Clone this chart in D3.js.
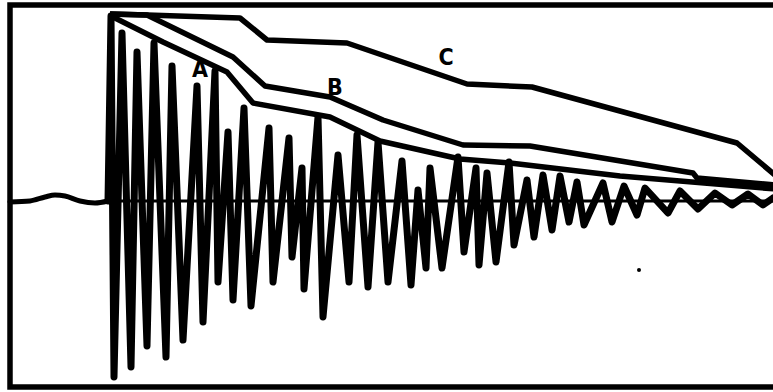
<!DOCTYPE html>
<html><head><meta charset="utf-8">
<script src="https://cdn.jsdelivr.net/npm/d3@7/dist/d3.min.js"></script>
<style>html,body{margin:0;padding:0;background:#fff;}svg{display:block;}</style>
</head><body>
<script>
// sample positions (time axis units) and amplitudes (baseline = 0)
const preT = [10, 30, 45, 55, 65, 80, 95, 108];
const preV = [-1, 0, 4, 6, 5, 0, -2, 0];
const sigT = [108,111,114,122,131,137,147,154,166,172,183,197,203,215,218,228,233,244,251,269,273,289,292,302,304,318,323,338,349,357,368,378,388,402,411,418,426,430,442,458,464,476,479,487,496,509,514,527,534,543,552,560,569,577,584,603,612,624,637,645,668,680,698,715,732,748,763,773];
const sigV = [0,185,-176,168,-166,149,-145,158,-156,135,-139,115,-121,130,-81,69,-99,93,-105,73,-81,63,-56,33,-88,84,-116,46,-81,66,-86,59,-81,40,-84,11,-67,33,-67,44,-51,33,-64,28,-61,39,-44,21,-36,26,-29,25,-21,19,-24,18,-21,15,-14,13,-12,10,-8,8,-4,7,-4,3];
// envelopes
const envCT = [110,147,240,267,347,467,532,737,775];
const envCV = [187,186,183,161,158,117,114,58,26];
const envBT = [110,147,233,265,330,383,463,530,693,697,775];
const envBV = [187,186,144,115,104,81,56,55,28,23,16];
const envAT = [110,115,163,227,253,330,380,460,510,620,775];
const envAV = [187,183,159,129,98,84,60,42,38,25,12];
const labels = [{t:200, v:124, s:"A"}, {t:335, v:106, s:"B"}, {t:446, v:136, s:"C"}];
const dotPoint = {t:639, v:-69};

const W = 773, H = 392;
const svg = d3.select("body").append("svg").attr("width", W).attr("height", H);
const x = d3.scaleLinear().domain([0, 773]).range([0, 773]);
const y = d3.scaleLinear().domain([-200, 200]).range([401, 1]);

svg.append("rect").attr("x", 10).attr("y", 5).attr("width", 775).attr("height", 382)
  .attr("fill", "#fff").attr("stroke", "#000").attr("stroke-width", 5.5);

const line = d3.line().x(d => x(d[0])).y(d => y(d[1]));
const smooth = d3.line().x(d => x(d[0])).y(d => y(d[1])).curve(d3.curveMonotoneX);
const zip = (a, b) => a.map((t, i) => [t, b[i]]);

// zero line
svg.append("path").attr("d", line([[106, 0], [773, 0]]))
  .attr("stroke", "#000").attr("stroke-width", 3).attr("fill", "none");

// pre-signal trace
svg.append("path").attr("d", smooth(zip(preT, preV)))
  .attr("stroke", "#000").attr("stroke-width", 5).attr("fill", "none").attr("stroke-linecap", "round");

// signal
svg.append("path").attr("d", line(zip(sigT, sigV)))
  .attr("stroke", "#000").attr("stroke-width", 7).attr("fill", "none")
  .attr("stroke-linejoin", "round").attr("stroke-linecap", "round");

// envelopes
[[envCT, envCV], [envBT, envBV], [envAT, envAV]].forEach(([t, v]) => {
  svg.append("path").attr("d", line(zip(t, v)))
    .attr("stroke", "#000").attr("stroke-width", 5.5).attr("fill", "none")
    .attr("stroke-linejoin", "round");
});

svg.selectAll("text.lab").data(labels).enter().append("text")
  .attr("x", d => x(d.t)).attr("y", d => y(d.v))
  .attr("text-anchor", "middle").attr("font-family", "DejaVu Sans Condensed, DejaVu Sans, sans-serif")
  .attr("font-stretch", "condensed")
  .attr("font-weight", "bold").attr("font-size", 23).text(d => d.s);

svg.append("circle").attr("cx", x(dotPoint.t)).attr("cy", y(dotPoint.v)).attr("r", 2).attr("fill", "#000");
</script>
</body></html>
